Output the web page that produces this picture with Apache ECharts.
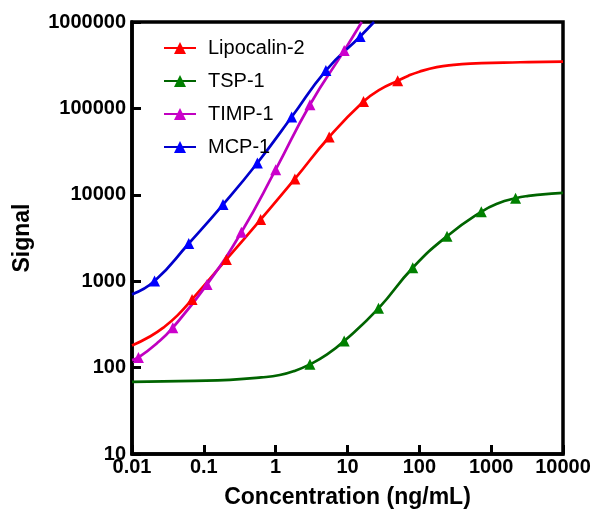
<!DOCTYPE html>
<html><head><meta charset="utf-8">
<script src="https://cdn.jsdelivr.net/npm/echarts@6/dist/echarts.min.js"></script>
<style>html,body{margin:0;padding:0;background:#fff}#c{width:594px;height:514px}</style>
</head><body><div id="c"></div>
<script>
const names = ['Lipocalin-2', 'TSP-1', 'TIMP-1', 'MCP-1'];
const xTicks = [0.01, 0.1, 1, 10, 100, 1000, 10000];
const yTicks = [10, 100, 1000, 10000, 100000, 1000000];

// measured points (triangle markers)
const lipX = [0.0686, 0.206, 0.617, 1.85, 5.56, 16.7, 50];
const lipY = [616, 1786, 5172, 15270, 46650, 120200, 208400];
const tspX = [3, 9, 27, 81, 243, 729, 2187];
const tspY = [109, 203, 485, 1432, 3318, 6350, 9120];
const timpX = [0.0123, 0.037, 0.111, 0.333, 1, 3, 9];
const timpY = [131, 290, 918, 3690, 19540, 110100, 466500];
const mcpX = [0.0206, 0.0617, 0.185, 0.556, 1.67, 5, 15];
const mcpY = [1003, 2731, 7700, 23350, 79400, 274000, 680000];

// fitted-curve points (besides the markers)
const lipCurveX = [0.01, 0.0178, 0.0273, 0.043, 29, 70.7, 100, 175, 300, 510, 1480, 3300, 10000];
const lipCurveY = [180, 229, 290, 402, 167000, 239300, 266000, 300000, 319000, 330000, 339000, 343000, 347000];
const tspCurveX = [0.01, 0.074, 0.231, 0.63, 1.14, 1.8, 5.2, 1260, 3300, 4810, 10000];
const tspCurveY = [68.4, 70.2, 72.1, 76.9, 82, 91, 142, 7990, 9720, 10050, 10500];
const timpCurveX = [0.01, 0.0221, 15.8];
const timpCurveY = [122, 190, 1000000];
const mcpCurveX = [0.01, 23.4];
const mcpCurveY = [704, 1000000];

function build(mx, my, cx, cy) {
  const pts = [];
  mx.forEach((x, i) => pts.push({ value: [x, my[i]] }));
  cx.forEach((x, i) => pts.push({ value: [x, cy[i]], symbol: 'none' }));
  pts.sort((a, b) => a.value[0] - b.value[0]);
  return pts;
}

const lineColors = ['#ff0000', '#006400', '#c000c0', '#0000cc'];
const markColors = ['#ff0000', '#008000', '#cc00cc', '#0000ff'];
const datas = [
  build(lipX, lipY, lipCurveX, lipCurveY),
  build(tspX, tspY, tspCurveX, tspCurveY),
  build(timpX, timpY, timpCurveX, timpCurveY),
  build(mcpX, mcpY, mcpCurveX, mcpCurveY)
];

const chart = echarts.init(document.getElementById('c'), null, { renderer: 'canvas' });
const F = 'Liberation Sans, Arial, sans-serif';
const fmt = ticks => v => { const t = ticks.find(k => Math.abs(Math.log10(k) - Math.log10(v)) < 1e-6); return t === undefined ? '' : String(t); };
chart.setOption({
  animation: false,
  backgroundColor: '#fff',
  grid: { left: 132, right: 31, top: 22, bottom: 59, show: true, borderColor: '#000', borderWidth: 3.5, backgroundColor: 'transparent' },
  legend: {
    data: names,
    orient: 'vertical',
    left: 158, top: 33,
    itemWidth: 32, itemHeight: 15, itemGap: 13,
    textStyle: { fontFamily: F, fontSize: 20, color: '#000', padding: [0, 0, 0, 7] }
  },
  xAxis: {
    type: 'log', logBase: 10, min: 0.01, max: 10000,
    name: 'Concentration (ng/mL)', nameLocation: 'middle', nameGap: 32,
    nameTextStyle: { fontFamily: F, fontSize: 23, fontWeight: 'bold', color: '#000' },
    axisLine: { show: true, lineStyle: { color: '#000', width: 3.5 } },
    axisTick: { show: true, inside: true, length: 9, lineStyle: { color: '#000', width: 3 } },
    minorTick: { show: false },
    splitLine: { show: false },
    axisLabel: { fontFamily: F, fontSize: 20, fontWeight: 'bold', color: '#000', margin: 3, formatter: fmt(xTicks) }
  },
  yAxis: {
    type: 'log', logBase: 10, min: 10, max: 1000000,
    name: 'Signal', nameLocation: 'middle', nameGap: 98, nameRotate: 90,
    nameTextStyle: { fontFamily: F, fontSize: 23, fontWeight: 'bold', color: '#000' },
    axisLine: { show: true, lineStyle: { color: '#000', width: 3.5 } },
    axisTick: { show: true, inside: true, length: 9, lineStyle: { color: '#000', width: 3 } },
    splitLine: { show: false },
    axisLabel: { fontFamily: F, fontSize: 20, fontWeight: 'bold', color: '#000', margin: 6, formatter: fmt(yTicks) }
  },
  series: names.map((n, i) => ({
    name: n,
    type: 'line',
    data: datas[i],
    smooth: 0.5,
    symbol: 'triangle',
    symbolSize: 11,
    showSymbol: true,
    showAllSymbol: true,
    lineStyle: { color: lineColors[i], width: 2.7 },
    itemStyle: { color: markColors[i] },
    emphasis: { disabled: true }
  }))
});
</script></body></html>
